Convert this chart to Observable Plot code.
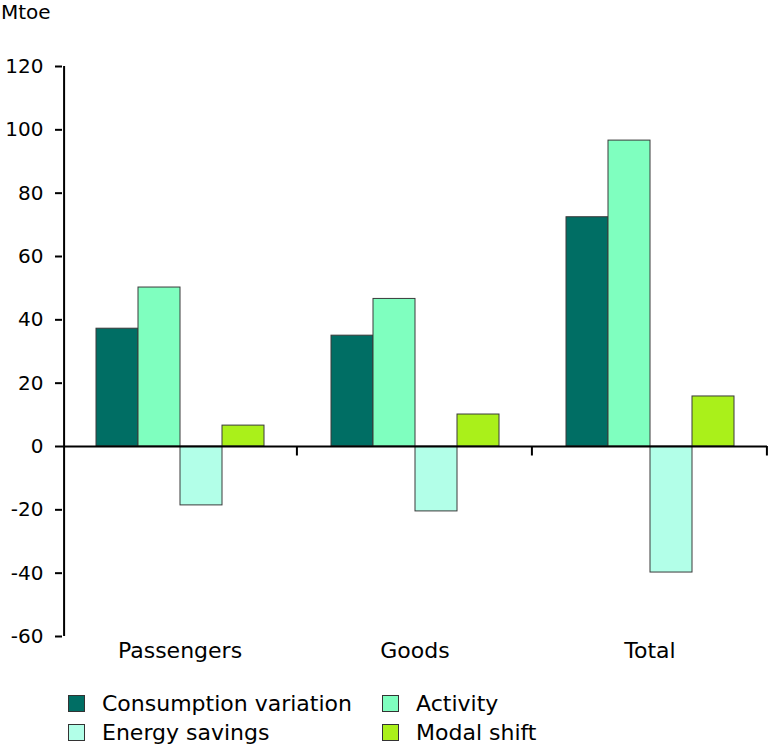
<!DOCTYPE html>
<html>
<head>
<meta charset="utf-8">
<script src="https://cdn.jsdelivr.net/npm/d3@7"></script>
<script src="https://cdn.jsdelivr.net/npm/@observablehq/plot@0.6"></script>
<style>
  body { margin: 0; background: #fff; font-family: "DejaVu Sans", Verdana, sans-serif; }
  #wrap { position: relative; width: 768px; }
  #unit { position: absolute; left: 1px; top: 0px; font-size: 20px; color: #000; }
  #legend { display: flex; flex-wrap: wrap; padding-left: 68px; margin-top: 17px; font-size: 22px; color: #000; }
  .item { width: 314px; height: 29px; display: flex; align-items: center; }
  .sw { width: 15px; height: 15px; border: 1px solid #333; margin-right: 17px; }
</style>
</head>
<body>
<div id="wrap">
  <div id="unit">Mtoe</div>
  <div id="chart"></div>
  <div id="legend"></div>
</div>
<script>
const categories = ["Passengers", "Goods", "Total"];
const seriesNames = ["Consumption variation", "Activity", "Energy savings", "Modal shift"];
const consumptionVariation = [37.2, 35.0, 72.4];
const activity = [50.2, 46.6, 96.6];
const energySavings = [-18.6, -20.5, -39.8];
const modalShift = [6.6, 10.1, 15.8];
const colors = ["#006e64", "#7fffbf", "#b2ffe8", "#aaf01a"];
const yTicks = [-60, -40, -20, 0, 20, 40, 60, 80, 100, 120];

const seriesValues = [consumptionVariation, activity, energySavings, modalShift];
const data = [];
categories.forEach((c, i) => seriesNames.forEach((s, j) => data.push({category: c, series: s, value: seriesValues[j][i]})));

const W = 768, ML = 62, MR = 1;
const outerPad = 0.75;
const facetW = (W - ML - MR) / categories.length;
const step = facetW / (seriesNames.length + 2 * outerPad);
const yMin = yTicks[0], yMax = yTicks[yTicks.length - 1];

const chart = Plot.plot({
  width: W, height: 672,
  marginLeft: ML, marginRight: MR, marginTop: 66, marginBottom: 36,
  style: {fontFamily: "DejaVu Sans, Verdana, sans-serif", fontSize: "20px", color: "#000", background: "#fff"},
  fx: {domain: categories, paddingInner: 0, paddingOuter: 0, axis: null},
  x: {domain: seriesNames, paddingInner: 0, paddingOuter: outerPad, axis: null},
  y: {domain: [yMin, yMax], axis: null},
  color: {domain: seriesNames, range: colors},
  marks: [
    Plot.axisY({ticks: yTicks, tickSize: 7, tickPadding: 12, strokeWidth: 2, label: null, fontSize: 20, tickFormat: d => String(d)}),
    Plot.axisFx({anchor: "bottom", tickSize: 0, tickPadding: 6, label: null, fontSize: 22}),
    Plot.ruleX([categories[0]], {fx: d => d, x: () => seriesNames[0], y1: yMin, y2: yMax, dx: -1.25 * step, stroke: "#000", strokeWidth: 2}),
    Plot.barY(data, {fx: "category", x: "series", y: "value", fill: "series", stroke: "#3a3a3a", strokeWidth: 1}),
    Plot.ruleY([0], {stroke: "#000", strokeWidth: 2}),
    Plot.ruleX(categories, {fx: d => d, x: () => seriesNames[seriesNames.length - 1], y1: 0, y2: -3, dx: 1.25 * step, stroke: "#000", strokeWidth: 2})
  ]
});
document.getElementById("chart").appendChild(chart);

const legend = document.getElementById("legend");
seriesNames.forEach((name, j) => {
  const it = document.createElement("div");
  it.className = "item";
  const sw = document.createElement("span");
  sw.className = "sw";
  sw.style.background = colors[j];
  const tx = document.createElement("span");
  tx.textContent = name;
  it.appendChild(sw); it.appendChild(tx);
  legend.appendChild(it);
});
</script>
</body>
</html>
